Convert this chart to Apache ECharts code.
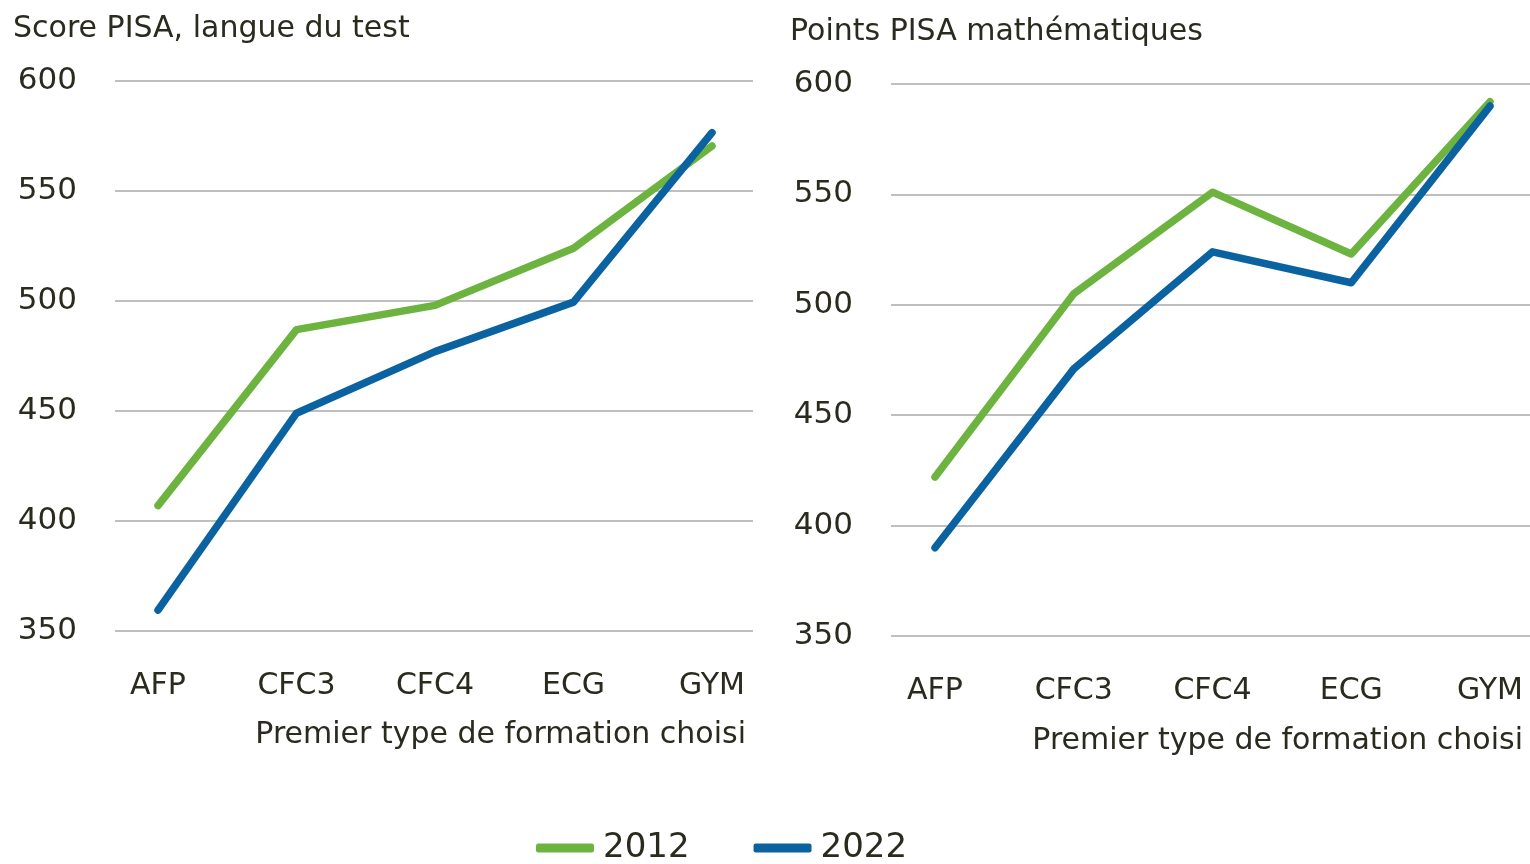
<!DOCTYPE html>
<html>
<head>
<meta charset="utf-8">
<script src="https://cdn.jsdelivr.net/npm/echarts@6/dist/echarts.min.js"></script>
<style>html,body{margin:0;padding:0;background:#fff}#c{width:1530px;height:864px}</style>
</head>
<body>
<div id="c"></div>
<script>
const categories = ['AFP', 'CFC3', 'CFC4', 'ECG', 'GYM'];
const langue2012 = [407, 487, 498, 524, 570.5];
const langue2022 = [359.5, 449, 477, 499.5, 576.5];
const maths2012 = [422, 505, 551, 523, 592];
const maths2022 = [390, 471, 524, 510, 590];
const yTicks = [350, 400, 450, 500, 550, 600];
const titleLeft = 'Score PISA, langue du test';
const titleRight = 'Points PISA mathématiques';
const xName = 'Premier type de formation choisi';

const FONT = 'DejaVu Sans';
const TXT = '#2b2a1f';
const GREEN = '#6cb33f';
const BLUE = '#0a62a0';

const chart = echarts.init(document.getElementById('c'));

function bgY(gridIndex) {
  return {
    type: 'value', gridIndex, min: yTicks[0], max: yTicks[yTicks.length - 1], interval: 50,
    axisLine: {show: false}, axisTick: {show: false},
    axisLabel: {color: TXT, fontFamily: FONT, fontSize: 31, margin: 38},
    splitLine: {lineStyle: {color: '#bfbfbf', width: 2}}
  };
}
function hidY(gridIndex) {
  return {type: 'value', gridIndex, min: yTicks[0], max: yTicks[yTicks.length - 1], interval: 50, show: false, splitLine: {show: false}};
}
function bgX(gridIndex) {
  return {type: 'value', gridIndex, show: false, splitLine: {show: false}};
}
function catX(gridIndex) {
  return {
    type: 'category', gridIndex, data: categories, boundaryGap: false,
    axisLine: {show: false}, axisTick: {show: false}, splitLine: {show: false},
    axisLabel: {color: TXT, fontFamily: FONT, fontSize: 30, margin: 40, interval: 0}
  };
}
function line(name, data, color, idx) {
  return {
    name, type: 'line', data, xAxisIndex: idx, yAxisIndex: idx,
    symbol: 'none', showSymbol: false, animation: false,
    lineStyle: {color, width: 7.5, cap: 'round', join: 'round'},
    itemStyle: {color}
  };
}

chart.setOption({
  animation: false,
  grid: [
    {left: 115, width: 638, top: 81, height: 550},
    {left: 158, width: 554, top: 81, height: 550},
    {left: 891, width: 639, top: 84, height: 552},
    {left: 935, width: 555, top: 84, height: 552}
  ],
  xAxis: [bgX(0), catX(1), bgX(2), catX(3)],
  yAxis: [bgY(0), hidY(1), bgY(2), hidY(3)],
  legend: {
    data: ['2012', '2022'], left: 531, top: 826,
    icon: 'roundRect', itemWidth: 58, itemHeight: 9, itemGap: 64,
    textStyle: {color: TXT, fontFamily: FONT, fontSize: 34, padding: [0, 0, 0, 4]}
  },
  graphic: [
    {type: 'text', style: {text: titleLeft, x: 13, y: 29, font: '30px "DejaVu Sans"', fill: TXT, verticalAlign: 'middle'}},
    {type: 'text', style: {text: titleRight, x: 790, y: 32, font: '30px "DejaVu Sans"', fill: TXT, verticalAlign: 'middle'}},
    {type: 'text', style: {text: xName, x: 746, y: 735, font: '30px "DejaVu Sans"', fill: TXT, align: 'right', verticalAlign: 'middle'}},
    {type: 'text', style: {text: xName, x: 1523, y: 741, font: '30px "DejaVu Sans"', fill: TXT, align: 'right', verticalAlign: 'middle'}}
  ],
  series: [
    line('2012', langue2012, GREEN, 1),
    line('2022', langue2022, BLUE, 1),
    line('2012', maths2012, GREEN, 3),
    line('2022', maths2022, BLUE, 3)
  ]
});
</script>
</body>
</html>
